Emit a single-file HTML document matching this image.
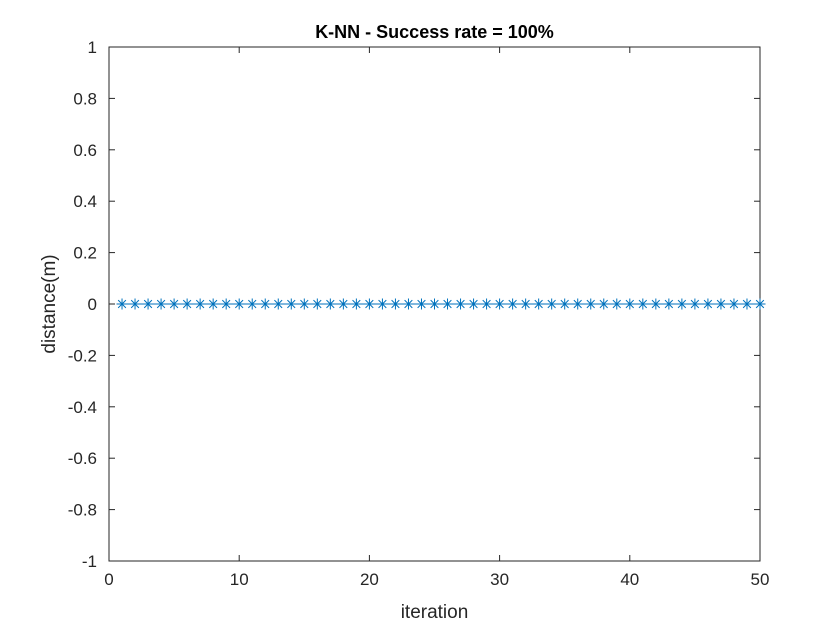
<!DOCTYPE html>
<html><head><meta charset="utf-8"><style>
body{margin:0;background:#fff;}
svg{display:block;font-family:"Liberation Sans",Arial,sans-serif;}
</style></head><body>
<svg id="chart" width="840" height="630" xmlns="http://www.w3.org/2000/svg">
<rect width="840" height="630" fill="#fff"/>
<g id="axes"></g>
<g id="series"></g>
</svg>
<script>
const iterations = Array.from({length:50},(_, i)=>i+1);
const distances = [0,0,0,0,0,0,0,0,0,0,0,0,0,0,0,0,0,0,0,0,0,0,0,0,0,0,0,0,0,0,0,0,0,0,0,0,0,0,0,0,0,0,0,0,0,0,0,0,0,0];
const xTicks = [0,10,20,30,40,50];
const yTicks = [-1,-0.8,-0.6,-0.4,-0.2,0,0.2,0.4,0.6,0.8,1];
const yTickLabels = ["-1","-0.8","-0.6","-0.4","-0.2","0","0.2","0.4","0.6","0.8","1"];

const L=109,R=760,T=47,B=561;
const xs=v=>L+(v-0)/(50-0)*(R-L);
const ys=v=>B-(v+1)/2*(B-T);
const NS="http://www.w3.org/2000/svg";
function mk(tag,attrs,parent){const e=document.createElementNS(NS,tag);for(const k in attrs)e.setAttribute(k,attrs[k]);parent.appendChild(e);return e;}
const ax=document.getElementById('axes'), se=document.getElementById('series');

const box=mk('rect',{x:L,y:T,width:R-L,height:B-T,fill:'none',stroke:'#262626','stroke-width':1},ax);



xTicks.forEach(t=>{
  const x=xs(t);
  mk('line',{x1:x,y1:B,x2:x,y2:B-6,stroke:'#262626'},ax);
  mk('line',{x1:x,y1:T,x2:x,y2:T+6,stroke:'#262626'},ax);
  const tx=mk('text',{x:x,y:B+24,'text-anchor':'middle','font-size':17,fill:'#262626'},ax);
  tx.textContent=t;
  
  
});
yTicks.forEach((t,i)=>{
  const y=ys(t);
  mk('line',{x1:L,y1:y,x2:L+6,y2:y,stroke:'#262626'},ax);
  mk('line',{x1:R,y1:y,x2:R-6,y2:y,stroke:'#262626'},ax);
  const tx=mk('text',{x:L-12,y:y+6,'text-anchor':'end','font-size':17,fill:'#262626'},ax);
  tx.textContent=yTickLabels[i];
  
  
});
const title=mk('text',{x:(L+R)/2,y:38,'text-anchor':'middle','font-size':18,'font-weight':'bold',fill:'#000'},ax);
title.textContent='K-NN - Success rate = 100%';


const xl=mk('text',{x:(L+R)/2,y:618,'text-anchor':'middle','font-size':19,fill:'#262626'},ax);
xl.textContent='iteration';


const yl=mk('text',{x:0,y:0,'text-anchor':'middle','font-size':19,fill:'#262626',transform:`translate(55,${(T+B)/2}) rotate(-90)`},ax);
yl.textContent='distance(m)';



const pts=iterations.map((v,i)=>xs(v)+','+ys(distances[i])).join(' ');
const line=mk('polyline',{points:pts,fill:'none',stroke:'#0072BD','stroke-width':1},se);


iterations.forEach((v,i)=>{
  const cx=xs(v), cy=ys(distances[i]), r=5.5;
  const g=mk('g',{stroke:'#0072BD','stroke-width':1},se);
  
  
  mk('line',{x1:cx-r,y1:cy,x2:cx+r,y2:cy},g);
  mk('line',{x1:cx,y1:cy-r,x2:cx,y2:cy+r},g);
  mk('line',{x1:cx-r*0.7,y1:cy-r*0.7,x2:cx+r*0.7,y2:cy+r*0.7},g);
  mk('line',{x1:cx-r*0.7,y1:cy+r*0.7,x2:cx+r*0.7,y2:cy-r*0.7},g);
});
</script>
</body></html>
